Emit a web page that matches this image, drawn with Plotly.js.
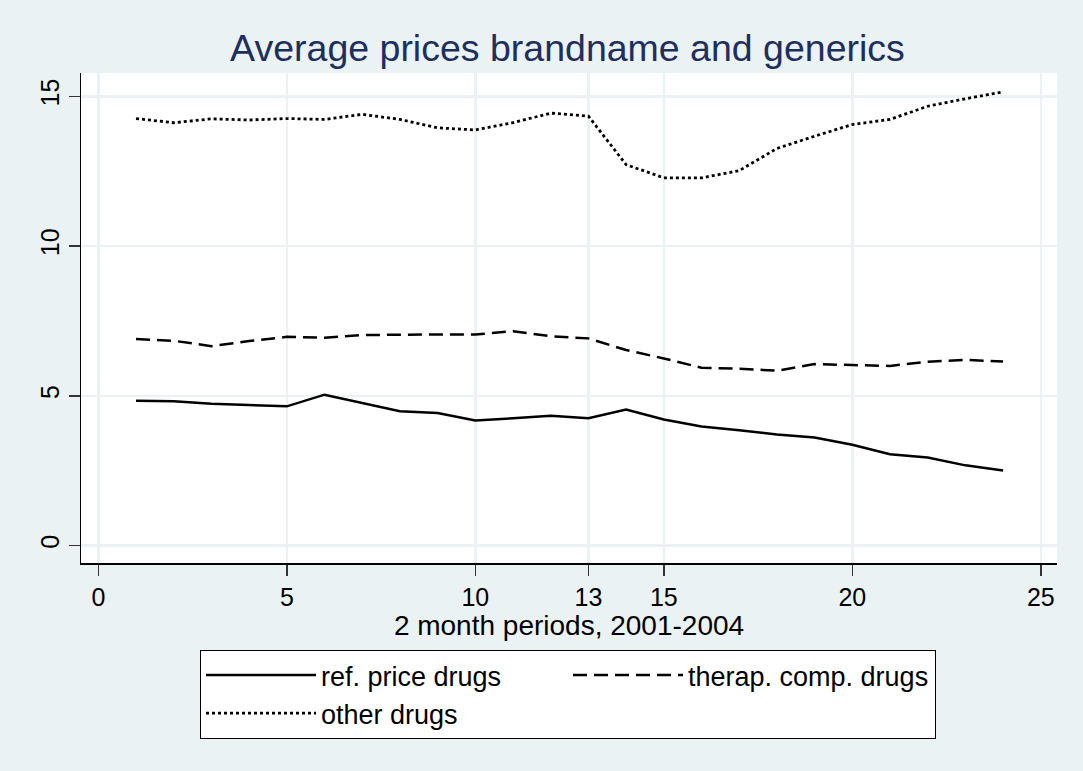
<!DOCTYPE html>
<html>
<head>
<meta charset="utf-8">
<script src="https://cdn.plot.ly/plotly-3.0.1.min.js"></script>
<style>html,body{margin:0;padding:0;background:#EAF2F3;}#chart{width:1083px;height:771px;}</style>
</head>
<body>
<div id="chart"></div>
<script>
// 2-month periods, 2001-2004
const periods = [1,2,3,4,5,6,7,8,9,10,11,12,13,14,15,16,17,18,19,20,21,22,23,24];
const refPrice = [4.84,4.82,4.74,4.70,4.65,5.04,4.76,4.49,4.43,4.18,4.25,4.34,4.25,4.54,4.21,3.98,3.85,3.71,3.61,3.37,3.05,2.94,2.68,2.51];
const therapComp = [6.90,6.84,6.66,6.83,6.97,6.94,7.03,7.05,7.05,7.05,7.16,6.99,6.92,6.53,6.25,5.94,5.91,5.84,6.06,6.03,6.00,6.14,6.20,6.15];
const otherDrugs = [14.26,14.12,14.25,14.21,14.26,14.23,14.40,14.23,13.95,13.88,14.12,14.44,14.34,12.72,12.28,12.28,12.52,13.26,13.67,14.06,14.23,14.67,14.92,15.15];
const seriesNames = ["ref. price drugs", "therap. comp. drugs", "other drugs"];
const xTicks = [0,5,10,13,15,20,25];
const yTicks = [0,5,10,15];

const FONT = "Liberation Sans, Arial, Helvetica, sans-serif";

const traces = [
  {x: periods, y: refPrice, name: seriesNames[0], mode: "lines", line: {color: "#000", width: 2.5, dash: "solid"}},
  {x: periods, y: therapComp, name: seriesNames[1], mode: "lines", line: {color: "#000", width: 2.5, dash: "14px,7px"}},
  {x: periods, y: otherDrugs, name: seriesNames[2], mode: "lines", line: {color: "#000", width: 2.8, dash: "3px,3px"}}
];

const layout = {
  width: 1083, height: 771,
  paper_bgcolor: "#EAF2F3",
  plot_bgcolor: "#FFFFFF",
  margin: {l: 81, r: 26, t: 73, b: 208},
  font: {family: FONT, color: "#000"},
  title: {
    text: "Average prices brandname and generics",
    font: {family: FONT, size: 37.5, color: "#1E2F5E"},
    x: 0.524, xref: "container", xanchor: "center",
    y: 1 - 48/771, yref: "container", yanchor: "middle"
  },
  xaxis: {
    range: [-0.46, 25.43],
    tickmode: "array", tickvals: xTicks, ticktext: xTicks.map(String),
    ticks: "outside", ticklen: 11, tickwidth: 1.5, tickcolor: "#333",
    showline: true, linecolor: "#000", linewidth: 1.5,
    showgrid: true, gridcolor: "#EAF2F3", gridwidth: 2.5,
    zeroline: false,
    tickfont: {family: FONT, size: 25, color: "#000"},
    title: {text: "2 month periods, 2001-2004", font: {family: FONT, size: 28, color: "#000"}, standoff: 0}
  },
  yaxis: {
    range: [-0.58, 15.78],
    tickmode: "array", tickvals: yTicks, ticktext: yTicks.map(String),
    tickangle: -90,
    ticks: "outside", ticklen: 11, tickwidth: 1.5, tickcolor: "#333",
    showline: true, linecolor: "#000", linewidth: 1.5,
    showgrid: true, gridcolor: "#EAF2F3", gridwidth: 2.5,
    zeroline: false,
    tickfont: {family: FONT, size: 25, color: "#000"}
  },
  showlegend: true,
  legend: {
    orientation: "h",
    x: (200-81)/976, xanchor: "left",
    y: (563-650)/490, yanchor: "top",
    bgcolor: "#FFFFFF", bordercolor: "#000", borderwidth: 1,
    font: {family: FONT, size: 27, color: "#000"},
    itemwidth: 110,
    entrywidth: 242,
    traceorder: "normal"
  }
};

Plotly.newPlot("chart", traces, layout, {displayModeBar: false, staticPlot: true});
</script>
</body>
</html>
